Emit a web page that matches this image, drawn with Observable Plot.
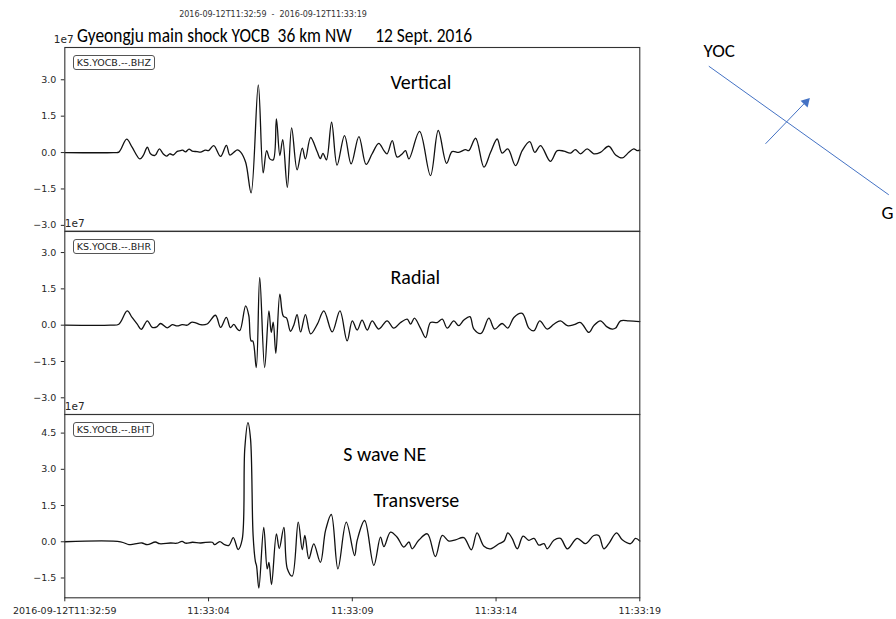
<!DOCTYPE html>
<html><head><meta charset="utf-8">
<script src="https://cdn.jsdelivr.net/npm/d3@7"></script>
<script src="https://cdn.jsdelivr.net/npm/@observablehq/plot@0.6"></script>
<style>
html,body{margin:0;padding:0;background:#fff;}
#root{position:relative;width:896px;height:619px;overflow:hidden;background:#fff;}
.abs{position:absolute;white-space:pre;line-height:normal;}
.stn{position:absolute;font-family:"DejaVu Sans";font-size:9.5px;line-height:13px;border:1px solid #555;border-radius:3px;padding:0 3px;background:#fff;color:#222;white-space:pre;}
.plotbox{position:absolute;left:0;}
</style></head><body><div id="root"></div>
<script>
// ---- data ----
const headerText = "2016-09-12T11:32:59  -  2016-09-12T11:33:19";
const titleText = "Gyeongju main shock YOCB  36 km NW      12 Sept. 2016";
const channelNames = ["KS.YOCB.--.BHZ", "KS.YOCB.--.BHR", "KS.YOCB.--.BHT"];
const timeTicks = [0, 5, 10, 15, 20];
const timeTickLabels = ["2016-09-12T11:32:59", "11:33:04", "11:33:09", "11:33:14", "11:33:19"];
const ampTicksZR = [-3, -1.5, 0, 1.5, 3];
const ampTicksT = [-1.5, 0, 1.5, 3, 4.5];

// seconds after 11:32:59 / amplitude in units of 1e7
const bhzTime = [0,1.69,1.88,2.15,2.34,2.61,2.73,2.87,2.98,3.12,3.17,3.29,3.42,3.54,3.65,3.77,3.91,4.02,4.10,4.20,4.32,4.43,4.60,4.72,4.89,5.00,5.18,5.42,5.62,5.74,5.88,6.00,6.11,6.29,6.48,6.73,6.90,7.02,7.13,7.25,7.36,7.48,7.58,7.74,7.89,8.08,8.26,8.37,8.55,8.78,8.89,8.98,9.10,9.28,9.47,9.73,9.96,10.23,10.48,10.69,10.92,11.10,11.21,11.39,11.56,11.74,11.85,11.97,12.34,12.72,12.99,13.28,13.47,13.70,13.94,14.05,14.29,14.58,14.81,15.04,15.21,15.41,15.68,15.91,16.17,16.35,16.55,16.89,17.13,17.36,17.59,17.76,17.94,18.17,18.40,18.63,18.92,19.16,19.39,19.62,19.79,19.91,20.00];
const bhzAmp = [0,0,0.02,0.55,0.22,-0.26,-0.12,0.22,-0.05,-0.12,-0.08,0.15,-0.05,-0.15,-0.05,-0.10,0.05,0.08,0.10,0.03,0.14,0.06,0.04,0.02,0.10,0.08,0.29,-0.16,0.30,-0.10,0.01,0.11,0.03,-0.40,-1.66,2.79,-0.84,0.08,-0.26,-0.30,1.39,-0.12,0.53,-1.43,1.02,-0.71,0.18,-0.26,0.62,0.03,-0.25,-0.03,-0.30,1.25,-0.52,0.70,-0.47,0.66,-0.49,-0.05,0.38,0.08,-0.05,0.49,-0.19,-0.05,0.08,-0.26,0.87,-0.95,0.91,-0.44,0.04,0.01,0.12,0.08,0.59,-0.60,0.01,0.56,-0.02,0.15,-0.54,0.08,0.45,0.01,0.29,-0.36,0.08,0.06,-0.02,0.12,-0.05,0.15,-0.05,0.01,0.26,-0.10,-0.22,0.01,0.15,0.08,0.10];

const bhrTime = [0,1.59,1.88,2.17,2.34,2.52,2.66,2.87,3.04,3.20,3.33,3.56,3.74,3.91,4.08,4.26,4.40,4.55,4.72,4.95,5.24,5.42,5.62,5.76,5.88,6.00,6.09,6.29,6.40,6.48,6.54,6.66,6.78,6.95,7.10,7.18,7.25,7.34,7.48,7.60,7.71,7.85,7.97,8.08,8.20,8.37,8.55,8.78,9.01,9.30,9.57,9.82,10.00,10.17,10.34,10.52,10.69,10.92,11.21,11.44,11.68,11.91,12.03,12.16,12.37,12.55,12.72,12.95,13.13,13.30,13.53,13.70,13.88,14.09,14.23,14.48,14.75,14.95,15.21,15.41,15.62,15.91,16.14,16.32,16.52,16.78,17.01,17.24,17.48,17.71,17.94,18.23,18.40,18.63,18.86,19.04,19.16,19.33,19.62,20.00];
const bhrAmp = [0,0,0.04,0.59,0.32,0.04,-0.17,0.18,-0.09,-0.07,0.07,-0.11,0.02,-0.03,0.02,0,0.12,0.10,0.02,0.05,0.41,-0.09,0.32,-0.10,0.03,-0.16,-0.22,0.80,0.40,-0.65,-0.65,-1.75,1.97,-1.75,0.59,-0.30,0.12,-1.16,1.28,0.37,0.30,-0.25,0.02,0.44,-0.28,0.44,-0.36,0.03,0.59,-0.28,0.59,-0.65,0.18,-0.20,0.21,-0.20,0.18,-0.16,0.18,-0.12,0.11,0.25,0.04,0.29,-0.12,-0.51,0.11,0.11,0.25,-0.12,0.18,-0.02,0.21,0.35,-0.16,-0.34,0.29,-0.16,0.07,-0.12,0.32,0.49,-0.12,-0.23,0.18,-0.16,0.04,0.18,-0.02,0.02,0.11,-0.30,-0.02,0.18,-0.07,-0.16,-0.12,0.18,0.18,0.15];

const bhtTime = [0,1.94,2.23,2.40,2.68,2.87,3.15,3.30,3.68,3.90,4.08,4.20,4.44,4.72,5.13,5.21,5.39,5.56,5.71,5.86,6.03,6.17,6.26,6.37,6.46,6.55,6.63,6.67,6.75,6.92,7.04,7.10,7.19,7.36,7.46,7.62,7.74,7.91,8.12,8.26,8.35,8.49,8.66,8.89,9.07,9.27,9.50,9.79,10.08,10.17,10.43,10.75,10.98,11.10,11.33,11.56,11.79,11.97,12.08,12.31,12.61,12.89,13.13,13.36,13.59,13.88,14.14,14.34,14.58,14.81,15.10,15.28,15.41,15.56,15.74,15.94,16.14,16.32,16.49,16.67,16.78,17.01,17.24,17.48,17.82,18.11,18.40,18.57,18.75,18.92,19.19,19.39,19.68,19.85,20.00];
const bhtAmp = [0,0,-0.12,-0.10,-0.05,-0.12,-0.01,-0.08,-0.05,-0.06,0.02,-0.06,-0.02,-0.05,-0.02,-0.12,0.01,-0.12,-0.15,0.17,-0.32,0.10,3.85,4.93,4.26,0.26,-0.82,-1.00,-1.92,0.60,-1.12,-0.85,-1.77,0.33,-0.28,0.60,-1.12,-1.42,0.81,-0.33,0.26,-0.70,-0.09,-0.85,0.47,1.13,-1.12,0.81,-0.57,0.06,0.88,-0.98,0.19,-0.20,0.40,0.19,-0.22,-0.01,-0.29,0.06,0.33,-0.61,0.26,0.03,0.08,0.17,-0.33,0.37,-0.19,-0.29,-0.08,0.03,0.37,0.14,-0.29,0.23,0.06,0.14,-0.14,-0.08,-0.29,0.06,0.14,-0.29,0.14,-0.08,0.26,0.26,-0.29,-0.08,0.37,0.08,-0.08,0.14,0.03];

const panelNotes = [["Vertical"], ["Radial"], ["S wave NE", "Transverse"]];
const diagramLabels = ["YOC", "G"];

// ---- layout ----
const root = document.getElementById("root");
const FL = 64.3, FR = 639.3;
const panels = [
  {time: bhzTime, amp: bhzAmp, top: 47, bottom: 230.7, domain: [-3.24, 4.33], ticks: ampTicksZR, showX: false, expDx: -11,
   notes: [{dx: 325.7, dy: 34.7}]},
  {time: bhrTime, amp: bhrAmp, top: 230.7, bottom: 413.7, domain: [-3.69, 3.87], ticks: ampTicksZR, showX: false, expDx: 0,
   notes: [{dx: 325.7, dy: 46}]},
  {time: bhtTime, amp: bhtAmp, top: 414, bottom: 597.3, domain: [-2.32, 5.27], ticks: ampTicksT, showX: true, expDx: 0,
   notes: [{dx: 278.4, dy: 40}, {dx: 308.7, dy: 86}]}
];

panels.forEach((p, i) => {
  const rows = p.time.map((t, k) => ({t, a: p.amp[k]}));
  const mb = p.showX ? 24 : 0;
  const noteMarks = p.notes.map((n, j) => Plot.text([panelNotes[i][j]], {
    text: d => d, frameAnchor: "top-left", dx: n.dx, dy: n.dy, textAnchor: "start", lineAnchor: "middle",
    fontFamily: "Carlito, Lato", fontSize: 20, fill: "#000"
  }));
  const svg = Plot.plot({
    width: 660, height: (p.bottom - p.top) + mb,
    marginLeft: FL, marginRight: 660 - FR, marginTop: 0, marginBottom: mb,
    style: {background: "transparent", overflow: "visible", fontFamily: "DejaVu Sans", fontSize: "9.5px", color: "#262626"},
    x: {domain: [0, 20], axis: p.showX ? "bottom" : null, ticks: timeTicks, tickSize: 4, tickPadding: 5.5,
        tickFormat: d => timeTickLabels[timeTicks.indexOf(d)], label: null},
    y: {domain: p.domain, ticks: p.ticks, tickSize: 3.5, tickPadding: 5, tickFormat: d3.format(".1f"), label: null},
    marks: [
      Plot.line(rows, {x: "t", y: "a", stroke: "#111", strokeWidth: 1.3, curve: "catmull-rom"}),
      Plot.frame({stroke: "#333", strokeWidth: 1.1}),
      Plot.text(["1e7"], {text: d => d, frameAnchor: "top-left", dx: p.expDx, dy: -7.5, textAnchor: "start",
        lineAnchor: "middle", fontSize: 10.5, fill: "#262626"}),
      ...noteMarks
    ]
  });
  const box = document.createElement("div");
  box.className = "plotbox";
  box.style.top = p.top + "px";
  box.appendChild(svg);
  root.appendChild(box);

  const st = document.createElement("div");
  st.className = "stn";
  st.textContent = channelNames[i];
  st.style.left = "72.7px";
  st.style.top = (p.top + 8) + "px";
  root.appendChild(st);
});

// header texts
function addText(txt, opts) {
  const d = document.createElement("div");
  d.className = "abs";
  d.textContent = txt;
  Object.assign(d.style, opts);
  root.appendChild(d);
  return d;
}
const hdr = addText(headerText, {fontFamily: "DejaVu Sans", fontSize: "8px", color: "#333", top: (17 - 0.928 * 8) + "px"});
hdr.style.left = (273 - hdr.getBoundingClientRect().width / 2) + "px";
const ttl = addText(titleText, {fontFamily: "Carlito, Lato", fontSize: "19.5px", color: "#000", left: "77px",
  top: (42.7 - 0.987 * 19.5) + "px", transformOrigin: "0 0"});
const tw = ttl.getBoundingClientRect().width;
ttl.style.transform = `scaleX(${395 / tw})`;

// right-side schematic (local coordinates in a 256 x 220 box)
const pathLine = [{x1: 68.3, y1: 35.7, x2: 248.3, y2: 164.3}];
const motionArrow = [{x1: 125, y1: 113.3, x2: 166, y2: 70.7}];
const arrowTip = [{x: 165.5, y: 71.5}];
const labelPos = [{x: 63, y: 20.7, label: diagramLabels[0]}, {x: 241, y: 182.7, label: diagramLabels[1]}];
const blue = "#4472C4";
const diag = Plot.plot({
  width: 256, height: 220, margin: 0,
  style: {background: "transparent", overflow: "visible"},
  x: {domain: [0, 256], axis: null},
  y: {domain: [0, 220], range: [0, 220], axis: null},
  marks: [
    Plot.link(pathLine, {x1: "x1", y1: "y1", x2: "x2", y2: "y2", stroke: blue, strokeWidth: 1}),
    Plot.link(motionArrow, {x1: "x1", y1: "y1", x2: "x2", y2: "y2", stroke: blue, strokeWidth: 1}),
    Plot.dot(arrowTip, {x: "x", y: "y", symbol: "triangle", r: 3.6, fill: blue, stroke: "none", rotate: 44}),
    Plot.text(labelPos, {x: "x", y: "y", text: "label", textAnchor: "start", lineAnchor: "middle",
      fontFamily: "Carlito, Lato", fontSize: 19, fill: "#000"})
  ]
});
const db = document.createElement("div");
db.style.position = "absolute"; db.style.left = "640px"; db.style.top = "30px";
db.appendChild(diag);
root.appendChild(db);
</script></body></html>
